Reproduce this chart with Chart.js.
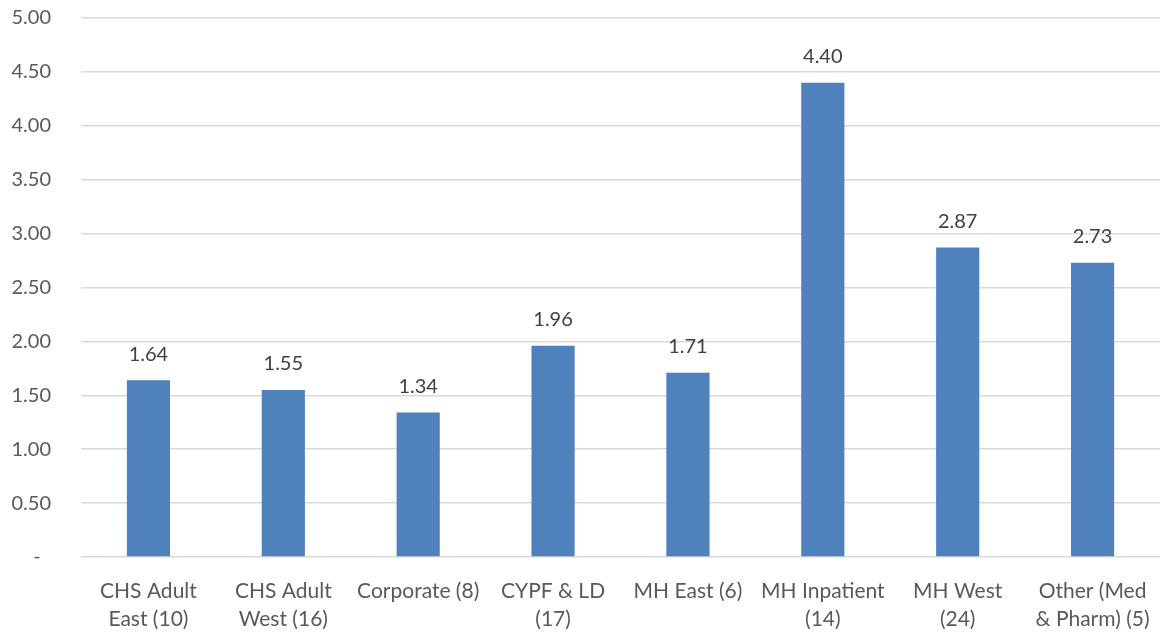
<!DOCTYPE html>
<html>
<head>
<meta charset="utf-8">
<script src="https://cdn.jsdelivr.net/npm/chart.js@4/dist/chart.umd.min.js"></script>
<style>
  html, body { margin: 0; padding: 0; background: #ffffff; }
  #wrap { width: 1160px; height: 634px; position: relative; }
</style>
</head>
<body>
<div id="wrap"><canvas id="c"></canvas></div>
<script>
// Categories (two-line labels) and average values per directorate
const categories = [
  ["CHS Adult", "East (10)"],
  ["CHS Adult", "West (16)"],
  ["Corporate (8)"],
  ["CYPF & LD", "(17)"],
  ["MH East (6)"],
  ["MH Inpatient", "(14)"],
  ["MH West", "(24)"],
  ["Other (Med", "& Pharm) (5)"]
];
const values = [1.64, 1.55, 1.34, 1.96, 1.71, 4.40, 2.87, 2.73];
const yTicks = [0, 0.5, 1, 1.5, 2, 2.5, 3, 3.5, 4, 4.5, 5];

const FONT = "Lato, 'Open Sans', sans-serif";
const FONT_SIZE = 20;

// Draws the value above each bar
const valueLabels = {
  id: 'valueLabels',
  afterDatasetsDraw(chart) {
    const ctx = chart.ctx;
    const meta = chart.getDatasetMeta(0);
    ctx.save();
    ctx.font = FONT_SIZE + "px " + FONT;
    ctx.fillStyle = '#404040';
    ctx.textAlign = 'center';
    ctx.textBaseline = 'middle';
    meta.data.forEach((bar, i) => {
      ctx.fillText(values[i].toFixed(2), bar.x, bar.y - 26);
    });
    ctx.restore();
  }
};

new Chart(document.getElementById('c'), {
  type: 'bar',
  data: {
    labels: categories,
    datasets: [{
      data: values,
      backgroundColor: '#4F81BD',
      borderWidth: 0,
      barPercentage: 0.32,
      categoryPercentage: 1.0
    }]
  },
  options: {
    responsive: true,
    maintainAspectRatio: false,
    animation: false,
    layout: { padding: { top: 18, right: 0, bottom: 0, left: 0 } },
    plugins: {
      legend: { display: false },
      tooltip: { enabled: false }
    },
    scales: {
      x: {
        grid: { display: false },
        border: { display: false },
        ticks: {
          color: '#595959',
          font: { family: FONT, size: 21, lineHeight: 1.35 },
          maxRotation: 0,
          autoSkip: false,
          padding: 12
        },
        afterFit(scale) {
          scale.height = 77;
          scale.paddingLeft = 0;
          scale.paddingRight = 0;
        }
      },
      y: {
        min: 0,
        max: 5,
        afterBuildTicks(scale) { scale.ticks = yTicks.map(v => ({ value: v })); },
        grid: { color: '#d9d9d9', lineWidth: 1.5, drawTicks: false },
        border: { display: false },
        ticks: {
          color: '#595959',
          font: { family: FONT, size: FONT_SIZE },
          padding: 30,
          callback: (v) => v === 0 ? '-  ' : Number(v).toFixed(2)
        },
        afterFit(scale) {
          scale.width = 81;
          scale.paddingTop = 0;
          scale.paddingBottom = 0;
        }
      }
    }
  },
  plugins: [valueLabels]
});
</script>
</body>
</html>
